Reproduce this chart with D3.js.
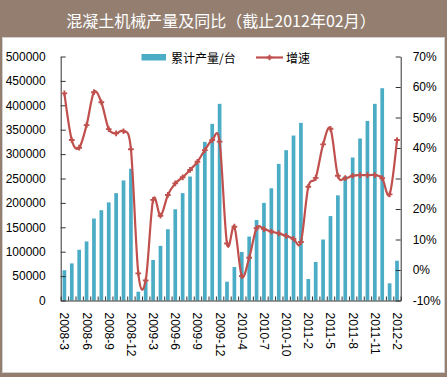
<!DOCTYPE html>
<html><head><meta charset="utf-8">
<script src="https://cdn.jsdelivr.net/npm/d3@7/dist/d3.min.js"></script>
<style>body{margin:0;padding:0;background:#fff;}svg{display:block;}</style>
</head><body>
<script>
const title = "混凝土机械产量及同比（截止2012年02月）";
const categories = [
  "2008-3","2008-4","2008-5","2008-6","2008-7","2008-8","2008-9","2008-10","2008-11","2008-12",
  "2009-1","2009-2","2009-3","2009-4","2009-5","2009-6","2009-7","2009-8","2009-9","2009-10","2009-11","2009-12",
  "2010-2","2010-3","2010-4","2010-5","2010-6","2010-7","2010-8","2010-9","2010-10","2010-11","2010-12",
  "2011-2","2011-3","2011-4","2011-5","2011-6","2011-7","2011-8","2011-9","2011-10","2011-11","2011-12",
  "2012-1","2012-2"
];
const output = [
  62000,76000,104000,121000,168000,185000,201000,220000,246000,270000,
  18000,42000,83000,112000,146000,187000,220000,254000,281000,325000,362000,403000,
  38500,68600,99400,131000,165000,200000,230000,280000,308000,338000,364000,
  44000,79000,125000,173000,215500,255000,293000,332000,368000,403000,435000,
  35200,81500
];
const growth = [
  57.9,42.6,40.1,47.5,58.3,55.0,46.2,44.8,45.5,39.6,
  -1.1,-3.4,23.0,17.8,24.6,28.4,30.4,32.8,35.5,39.3,42.6,42.1,
  8.7,14.2,-2.0,4.0,13.7,13.4,12.6,12.0,11.2,10.2,9.2,
  27.3,30.2,41.2,46.3,30.9,30.1,30.9,31.1,31.1,31.1,30.1,
  24.8,42.6
];
const leftTicks = [0,50000,100000,150000,200000,250000,300000,350000,400000,450000,500000];
const rightTicks = [-10,0,10,20,30,40,50,60,70];
const seriesNames = ["累计产量/台","增速"];

const W = 447, H = 377;
const barColor = "#4BACC6", lineColor = "#C0504D";
const svg = d3.select("body").append("svg").attr("width", W).attr("height", H);

// frame
svg.append("rect").attr("x",0).attr("y",0).attr("width",W).attr("height",H).attr("fill","#937E70");
svg.append("rect").attr("x",2.5).attr("y",37.5).attr("width",442).attr("height",335).attr("fill","#fff").attr("stroke","#d0d0d0");
svg.append("text").attr("x",221).attr("y",20).attr("text-anchor","middle").attr("dominant-baseline","central")
  .attr("font-family","'Noto Sans CJK SC', sans-serif").attr("font-size",16).attr("fill","#fff").text(title);

const x0 = 60.7, x1 = 400.7, yTop = 56.5, yBot = 300.5;
const x = d3.scaleBand().domain(categories).range([x0, x1]).paddingInner(0.5).paddingOuter(0.25);
const y = d3.scaleLinear().domain([0, 500000]).range([yBot, yTop]);
const y2 = d3.scaleLinear().domain([-10, 70]).range([yBot, yTop]);
const font = "'Liberation Sans', Arial, sans-serif";

// bars
svg.append("g").selectAll("rect").data(output).join("rect")
  .attr("x", (d,i) => x(categories[i]))
  .attr("width", x.bandwidth())
  .attr("y", d => y(d))
  .attr("height", d => yBot - y(d))
  .attr("fill", barColor);

// axes
const gl = svg.append("g").attr("transform", `translate(${x0},0)`)
  .call(d3.axisLeft(y).tickValues(leftTicks).tickFormat(d3.format("d")).tickSizeInner(-5).tickSizeOuter(0).tickPadding(15));
const gr = svg.append("g").attr("transform", `translate(${x1},0)`)
  .call(d3.axisRight(y2).tickValues(rightTicks).tickFormat(d => d + "%").tickSizeInner(-5).tickSizeOuter(0).tickPadding(12));
[gl, gr].forEach(g => {
  g.selectAll("text").attr("font-family", font).attr("font-size", 12).attr("fill", "#000");
  g.selectAll("line,path").attr("stroke", "#333");
});

// bottom axis: boundary ticks
const xb = d3.scaleLinear().domain([0, categories.length]).range([x0, x1]);
const gb = svg.append("g").attr("transform", `translate(0,${yBot})`)
  .call(d3.axisBottom(xb).tickValues(d3.range(categories.length + 1)).tickSizeInner(-4).tickSizeOuter(0).tickFormat(""));
gb.selectAll("line,path").attr("stroke", "#333");

// x labels every 3rd category, rotated
const labelCats = categories.filter((c,i) => i % 3 === 0);
const gx = svg.append("g").attr("transform", `translate(0,${yBot})`)
  .call(d3.axisBottom(x).tickValues(labelCats).tickSize(0).tickPadding(0));
gx.select(".domain").remove();
gx.selectAll("text").attr("font-family", font).attr("font-size", 12).attr("fill", "#000")
  .attr("y", 0).attr("dy", null)
  .attr("text-anchor", "start").attr("dominant-baseline", "central")
  .attr("transform", "translate(0,12) rotate(90)");

// line
const cx = i => x(categories[i]) + x.bandwidth() / 2;
const line = d3.line().x((d,i) => cx(i)).y(d => y2(d)).curve(d3.curveCatmullRom.alpha(0));
svg.append("path").datum(growth).attr("d", line).attr("fill", "none")
  .attr("stroke", lineColor).attr("stroke-width", 2.2);
const sym = d3.symbol().type(d3.symbolCross).size(18);
svg.append("g").selectAll("path").data(growth).join("path")
  .attr("transform", (d,i) => `translate(${cx(i)},${y2(d)})`)
  .attr("d", sym).attr("fill", lineColor);

// legend
const lg = svg.append("g");
lg.append("rect").attr("x",141.5).attr("y",54).attr("width",24.5).attr("height",6.5).attr("fill",barColor);
lg.append("text").attr("x",171).attr("y",57.5).attr("dominant-baseline","central")
  .attr("font-family","'Noto Sans CJK SC', sans-serif").attr("font-size",12).attr("fill","#000").text(seriesNames[0]);
lg.append("line").attr("x1",256).attr("x2",283).attr("y1",57.5).attr("y2",57.5).attr("stroke",lineColor).attr("stroke-width",2.2);
lg.append("path").attr("transform","translate(269.5,57.5)").attr("d",sym).attr("fill",lineColor);
lg.append("text").attr("x",286).attr("y",57.5).attr("dominant-baseline","central")
  .attr("font-family","'Noto Sans CJK SC', sans-serif").attr("font-size",12).attr("fill","#000").text(seriesNames[1]);
</script>
</body></html>
